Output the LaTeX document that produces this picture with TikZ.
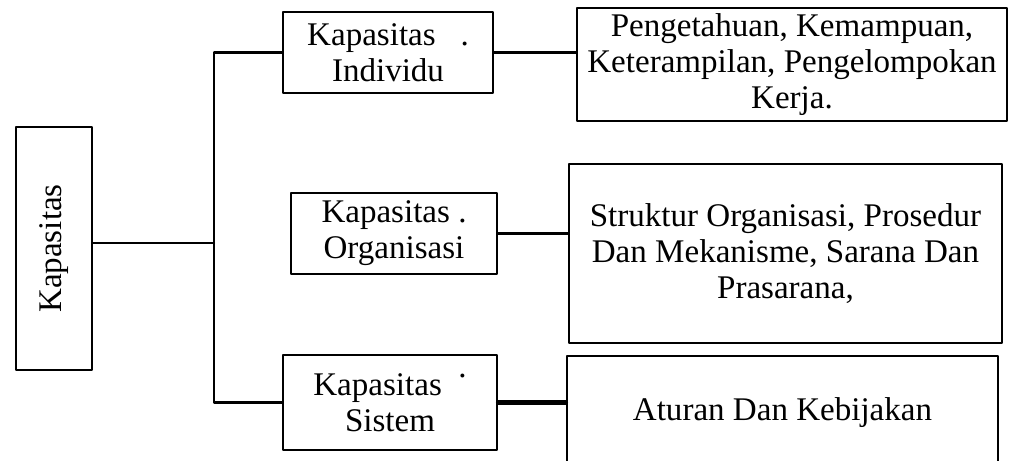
\documentclass[tikz,border=0pt]{standalone}
\usepackage{fontspec}
\setmainfont{Liberation Serif}
\begin{document}
\begin{tikzpicture}[x=0.025cm,y=-0.025cm,line cap=round,line join=round,
	box/.style={draw,line width=1.5pt,align=center,inner sep=0pt,font=\fontsize{23.5}{25.5}\selectfont},
	link/.style={line width=1.5pt}]
	\useasboundingbox (0,0) rectangle (1010,460);
	\clip (0,0) rectangle (1010,460);
	% left
	\node[box,minimum width=1.9cm,minimum height=6.075cm] (kap) at (54,248.5) {\rotatebox{90}{Kapasitas}};
	% middle
	\node[box,minimum width=5.25cm,minimum height=2.025cm] (ind) at (388,52.5) {Kapasitas\hspace{0.75em}.\\Individu};
	\node[box,minimum width=5.15cm,minimum height=2.025cm] (org) at (394,233.5) {Kapasitas .\\Organisasi};
	\node[box,minimum width=5.35cm,minimum height=2.375cm] (sis) at (390,402.5) {Kapasitas\hspace{0.5em}\raisebox{0.55em}{.}\\Sistem};
	% right
	\node[box,minimum width=10.75cm,minimum height=2.825cm] (pen) at (792,64.5) {Pengetahuan, Kemampuan,\\Keterampilan, Pengelompokan\\Kerja.};
	\node[box,minimum width=10.825cm,minimum height=4.475cm] (str) at (785.5,253.5) {Struktur Organisasi, Prosedur\\Dan Mekanisme, Sarana Dan\\Prasarana,};
	\node[box,minimum width=10.775cm,minimum height=2.85cm] (atu) at (782.5,413) {Aturan Dan Kebijakan};
	% connectors
	\coordinate (j) at (214,243);
	\draw[link] (kap.east |- j) -- (j);
	\draw[link] (ind.west) -| (j) |- (sis.west);
	\draw[link] (ind.east) -- (ind.east -| pen.west);
	\draw[link] (org.east) -- (org.east -| str.west);
	\draw[line width=3pt] (sis.east) -- (sis.east -| atu.west);
\end{tikzpicture}
\end{document}
